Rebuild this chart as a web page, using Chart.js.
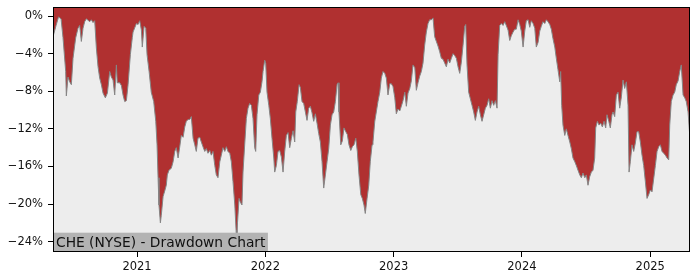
<!DOCTYPE html>
<html>
<head>
<meta charset="utf-8">
<script src="https://cdn.jsdelivr.net/npm/chart.js@4"></script>
<style>
html,body{margin:0;padding:0;background:#fff;}
canvas{display:block;}
</style>
</head>
<body>
<canvas id="c" width="700" height="280"></canvas>
<script>
// Dates as decimal years
const dates = [
2020.345,2020.369,2020.388,2020.408,2020.423,2020.444,2020.449,2020.462,2020.475,2020.488,
2020.501,2020.522,2020.540,2020.553,2020.566,2020.579,2020.592,2020.605,2020.631,2020.644,
2020.657,2020.670,2020.683,2020.696,2020.709,2020.722,2020.735,2020.753,2020.769,2020.787,
2020.800,2020.813,2020.826,2020.839,2020.846,2020.865,2020.878,2020.891,2020.904,2020.917,
2020.930,2020.948,2020.963,2020.969,2020.995,2021.008,2021.021,2021.034,2021.041,2021.055,
2021.068,2021.078,2021.094,2021.111,2021.130,2021.146,2021.156,2021.164,2021.171,2021.182,
2021.189,2021.203,2021.216,2021.228,2021.236,2021.249,2021.267,2021.281,2021.294,2021.306,
2021.320,2021.333,2021.345,2021.359,2021.372,2021.384,2021.398,2021.411,2021.423,2021.437,
2021.450,2021.462,2021.475,2021.489,2021.501,2021.514,2021.528,2021.540,2021.553,2021.567,
2021.579,2021.592,2021.606,2021.618,2021.631,2021.645,2021.657,2021.670,2021.684,2021.696,
2021.709,2021.723,2021.735,2021.748,2021.762,2021.772,2021.777,2021.783,2021.795,2021.805,
2021.818,2021.826,2021.839,2021.852,2021.865,2021.878,2021.891,2021.904,2021.917,2021.925,
2021.935,2021.949,2021.961,2021.974,2021.982,2021.995,2022.003,2022.013,2022.027,2022.039,
2022.052,2022.066,2022.073,2022.086,2022.099,2022.112,2022.125,2022.138,2022.151,2022.164,
2022.177,2022.190,2022.203,2022.216,2022.229,2022.237,2022.249,2022.263,2022.273,2022.286,
2022.299,2022.312,2022.325,2022.338,2022.351,2022.364,2022.377,2022.390,2022.403,2022.416,
2022.429,2022.442,2022.455,2022.468,2022.481,2022.494,2022.507,2022.520,2022.533,2022.546,
2022.559,2022.567,2022.574,2022.588,2022.600,2022.613,2022.627,2022.639,2022.652,2022.666,
2022.678,2022.691,2022.705,2022.717,2022.730,2022.744,2022.756,2022.769,2022.779,2022.793,
2022.806,2022.818,2022.832,2022.839,2022.853,2022.865,2022.878,2022.892,2022.904,2022.917,
2022.931,2022.943,2022.956,2022.970,2022.982,2022.995,2023.009,2023.021,2023.034,2023.048,
2023.060,2023.073,2023.087,2023.099,2023.112,2023.126,2023.138,2023.151,2023.165,2023.177,
2023.190,2023.203,2023.216,2023.229,2023.242,2023.255,2023.268,2023.281,2023.294,2023.307,
2023.320,2023.333,2023.346,2023.359,2023.372,2023.385,2023.398,2023.411,2023.424,2023.437,
2023.450,2023.463,2023.476,2023.489,2023.502,2023.515,2023.528,2023.541,2023.554,2023.562,
2023.572,2023.585,2023.598,2023.611,2023.624,2023.637,2023.650,2023.663,2023.676,2023.689,
2023.702,2023.715,2023.728,2023.741,2023.754,2023.767,2023.780,2023.793,2023.806,2023.814,
2023.827,2023.839,2023.853,2023.866,2023.878,2023.892,2023.905,2023.917,2023.931,2023.944,
2023.956,2023.970,2023.983,2023.995,2024.009,2024.022,2024.034,2024.048,2024.061,2024.073,
2024.087,2024.100,2024.112,2024.126,2024.139,2024.151,2024.164,2024.178,2024.190,2024.203,
2024.217,2024.229,2024.242,2024.256,2024.268,2024.281,2024.295,2024.302,2024.310,2024.320,
2024.334,2024.346,2024.359,2024.373,2024.385,2024.398,2024.412,2024.424,2024.437,2024.451,
2024.463,2024.476,2024.490,2024.502,2024.515,2024.528,2024.541,2024.554,2024.567,2024.575,
2024.588,2024.601,2024.614,2024.627,2024.640,2024.653,2024.663,2024.677,2024.689,2024.702,
2024.710,2024.723,2024.736,2024.749,2024.762,2024.775,2024.788,2024.801,2024.814,2024.827,
2024.835,2024.845,2024.858,2024.871,2024.884,2024.897,2024.910,2024.923,2024.936,2024.949,
2024.962,2024.975,2024.988,2025.001,2025.014,2025.027,2025.040,2025.053,2025.066,2025.079,
2025.092,2025.105,2025.118,2025.131,2025.144,2025.152,2025.164,2025.178,2025.191,2025.203,
2025.217,2025.230,2025.242,2025.256,2025.269,2025.281,2025.295,2025.308
];
// Drawdown in percent
const drawdown = [
-2.2,-1.0,-0.1,-0.3,-2.3,-5.9,-8.5,-6.5,-7.0,-7.3,
-4.5,-2.3,-1.3,-1.0,-2.7,-1.3,-0.6,-0.3,-0.6,-0.4,
-0.7,-0.5,-3.4,-5.4,-6.6,-7.3,-8.2,-8.7,-8.2,-5.9,
-6.5,-6.8,-8.4,-5.2,-7.1,-7.1,-7.4,-8.4,-9.1,-9.0,
-7.3,-4.1,-2.3,-1.7,-0.8,-0.9,-0.5,-1.5,-3.3,-1.1,
-1.3,-4.1,-5.9,-8.1,-9.1,-11.2,-13.7,-17.2,-20.1,-22.0,
-21.2,-19.2,-18.6,-18.0,-16.9,-16.4,-16.2,-15.5,-14.4,-14.0,
-15.1,-13.9,-12.7,-12.9,-11.8,-11.2,-11.0,-11.0,-10.7,-13.0,
-13.7,-14.4,-13.0,-12.9,-13.4,-13.9,-14.4,-14.1,-14.6,-14.3,
-14.8,-14.4,-15.9,-16.9,-17.2,-15.5,-14.8,-14.0,-14.4,-13.9,
-14.4,-14.6,-15.5,-17.6,-20.1,-22.8,-24.4,-22.0,-19.4,-19.8,
-20.1,-16.6,-13.7,-10.9,-9.8,-9.3,-9.5,-10.9,-14.0,-14.4,
-10.5,-8.4,-8.1,-7.0,-5.9,-4.7,-5.0,-8.1,-9.5,-10.9,
-13.0,-15.1,-16.6,-15.9,-14.4,-14.3,-15.0,-16.6,-14.4,-12.7,
-12.4,-14.0,-13.0,-12.2,-13.4,-10.2,-9.1,-7.3,-7.6,-9.1,
-9.3,-10.2,-11.1,-9.8,-9.6,-10.3,-11.2,-10.4,-11.4,-12.5,
-13.4,-15.5,-18.3,-16.9,-15.5,-14.1,-11.6,-10.5,-10.2,-9.1,
-7.3,-7.1,-10.2,-13.7,-13.3,-11.9,-12.3,-12.6,-13.7,-14.3,
-13.9,-13.7,-13.0,-14.4,-16.9,-19.0,-19.4,-20.1,-21.0,-19.4,
-18.0,-15.5,-13.7,-13.4,-11.2,-10.2,-9.1,-8.1,-6.6,-5.9,
-6.1,-6.6,-8.4,-7.2,-7.2,-7.5,-8.7,-10.4,-9.9,-10.1,
-9.6,-9.0,-8.1,-9.6,-8.2,-7.7,-6.9,-5.2,-5.5,-7.9,
-7.1,-6.4,-5.9,-5.0,-3.1,-1.7,-0.8,-0.4,-0.4,-0.2,
-2.2,-2.7,-3.2,-3.8,-4.5,-4.6,-5.0,-5.4,-4.6,-5.0,
-4.5,-4.0,-4.2,-4.5,-5.4,-6.1,-4.9,-3.1,-1.1,-0.9,
-5.2,-8.1,-8.8,-9.5,-10.2,-11.1,-10.2,-9.6,-10.5,-11.2,
-10.5,-9.8,-9.5,-8.8,-9.8,-9.0,-9.5,-9.0,-9.8,-4.1,
-1.0,-0.8,-1.0,-0.6,-1.0,-1.5,-2.6,-2.1,-1.7,-1.4,
-1.4,-0.4,-0.9,-1.6,-3.3,-1.6,-0.5,-0.4,-1.2,-0.5,
-0.8,-1.3,-3.3,-2.8,-1.6,-1.1,-0.6,-0.8,-0.4,-0.6,
-0.9,-1.4,-2.4,-3.3,-4.5,-5.7,-7.0,-5.9,-9.5,-11.6,
-12.7,-12.0,-12.7,-13.4,-14.1,-15.1,-15.5,-15.9,-16.4,-16.9,
-17.2,-16.7,-17.2,-16.9,-18.0,-17.1,-16.6,-16.4,-15.1,-11.9,
-11.2,-11.6,-11.4,-11.8,-11.2,-11.9,-10.5,-11.2,-11.9,-10.5,
-10.2,-10.7,-8.4,-8.1,-9.8,-8.6,-6.8,-7.7,-7.0,-9.5,
-16.6,-15.5,-13.7,-14.4,-13.5,-12.3,-12.3,-13.4,-14.8,-15.9,
-17.6,-19.4,-19.0,-18.5,-18.7,-17.3,-15.9,-14.4,-13.9,-13.7,
-14.4,-14.6,-14.8,-15.1,-15.3,-11.6,-9.1,-8.4,-8.1,-7.3,
-6.9,-5.9,-5.2,-8.4,-8.7,-9.1,-10.2,-12.7
];
const xTicks = [2021, 2022, 2023, 2024, 2025];
const yTicks = [0, -4, -8, -12, -16, -20, -24];
const xRange = [2020.345, 2025.31];
const yRange = [-25.1, 0.96];
const chartTitle = 'CHE (NYSE) - Drawdown Chart';

const RED = '#b03030';
const FONT = "'DejaVu Sans', sans-serif";

const framePlugin = {
  id: 'frame',
  beforeDatasetsDraw(chart) {
    const a = chart.chartArea, ctx = chart.ctx;
    ctx.save();
    ctx.fillStyle = RED;
    ctx.fillRect(a.left, a.top, a.right - a.left, a.bottom - a.top);
    ctx.restore();
  },
  afterDraw(chart) {
    const a = chart.chartArea, ctx = chart.ctx;
    ctx.save();
    ctx.font = "13.8px " + FONT;
    const w = ctx.measureText(chartTitle).width;
    ctx.fillStyle = '#b3b3b3';
    ctx.fillRect(a.left, a.bottom - 19.3, w + 5.5, 19.3);
    ctx.fillStyle = '#111';
    ctx.textBaseline = 'alphabetic';
    ctx.fillText(chartTitle, a.left + 3, a.bottom - 4.7);
    ctx.strokeStyle = '#000';
    ctx.lineWidth = 1;
    ctx.strokeRect(a.left + 0.5, a.top + 0.5, a.right - a.left - 1, a.bottom - a.top - 1);
    ctx.restore();
  }
};

new Chart(document.getElementById('c'), {
  type: 'line',
  data: {
    datasets: [{
      data: dates.map((d, i) => ({x: d, y: drawdown[i]})),
      borderColor: '#858585',
      borderWidth: 1,
      backgroundColor: '#ededed',
      fill: 'start',
      pointRadius: 0,
      tension: 0
    }]
  },
  options: {
    responsive: false,
    animation: false,
    devicePixelRatio: 1,
    layout: {padding: {left: 0, right: 10, top: 7, bottom: 0}},
    plugins: {legend: {display: false}, tooltip: {enabled: false}},
    scales: {
      x: {
        type: 'linear',
        min: xRange[0], max: xRange[1],
        afterBuildTicks: s => { s.ticks = xTicks.map(v => ({value: v})); },
        afterFit: s => { s.height = 28; s.paddingLeft = 0; s.paddingRight = 0; },
        grid: {drawOnChartArea: false, color: '#000', tickLength: 5, tickWidth: 1},
        border: {display: false},
        ticks: {
          autoSkip: false, maxRotation: 0, padding: 3,
          color: '#111', font: {family: FONT, size: 11.5},
          callback: v => String(v)
        }
      },
      y: {
        type: 'linear',
        min: yRange[0], max: yRange[1],
        afterBuildTicks: s => { s.ticks = yTicks.map(v => ({value: v})); },
        afterFit: s => { s.width = 53; s.paddingTop = 0; s.paddingBottom = 0; },
        grid: {drawOnChartArea: false, color: '#000', tickLength: 5, tickWidth: 1},
        border: {display: false},
        ticks: {
          padding: 5,
          color: '#111', font: {family: FONT, size: 11.5},
          callback: v => (v < 0 ? '\u2212' + Math.abs(v) : String(v)) + '%'
        }
      }
    }
  },
  plugins: [framePlugin]
});
</script>
</body>
</html>
